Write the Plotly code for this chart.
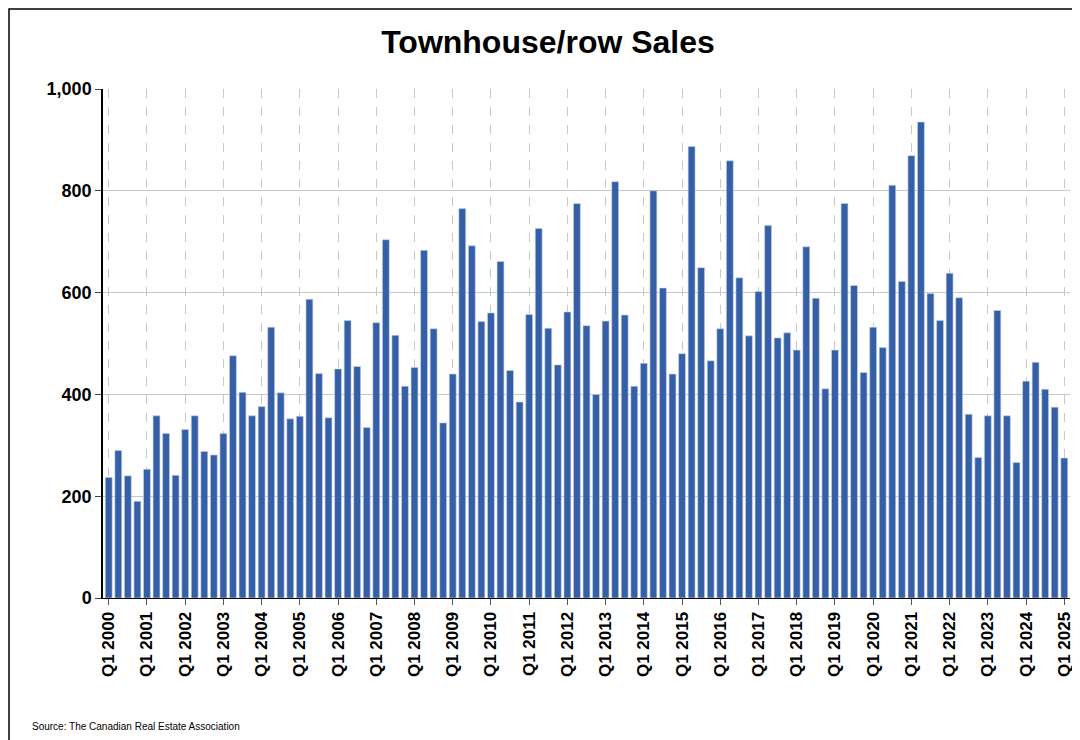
import plotly.graph_objs as go

years = list(range(2000, 2026))
sales = [237, 290, 240, 190,
         253, 358, 323, 241,
         331, 358, 288, 281,
         323, 476, 404, 358,
         376, 532, 403, 352,
         357, 587, 441, 354,
         450, 545, 455, 335,
         541, 704, 516, 416,
         453, 683, 529, 344,
         440, 765, 692, 543,
         560, 661, 447, 385,
         557, 726, 530, 458,
         562, 775, 535, 400,
         544, 818, 556, 416,
         461, 800, 609, 440,
         480, 887, 649, 466,
         529, 859, 629, 515,
         602, 732, 511, 521,
         487, 690, 589, 411,
         487, 775, 614, 443,
         532, 492, 811, 622,
         869, 935, 598, 545,
         638, 590, 361, 276,
         358, 565, 358, 266,
         426, 463, 410, 375,
         275]

quarters = ['Q%d %d' % (q, y) for y in years for q in range(1, 5)][:len(sales)]
q1_labels = ['Q1 %d' % y for y in years]

trace = go.Bar(x=quarters, y=sales, marker=dict(color='#3560a8', line=dict(color='#c9d4ea', width=0.6)),
               width=0.72)

# frame around the whole picture, in paper coords
pl, pr, pt, pb = 95, 1062, 81, 590
W, H = pr - pl, pb - pt
frame = dict(type='rect', xref='paper', yref='paper', x0=(1 - pl) / W, x1=(1079 - pl) / W,
             y0=(pb - 739) / H, y1=(pb - 1) / H, line=dict(color='black', width=1.5))

layout = go.Layout(
    width=1080, height=740,
    margin=dict(l=pl, r=1080 - pr, t=pt, b=740 - pb),
    paper_bgcolor='white', plot_bgcolor='white',
    font=dict(family='Liberation Sans, Arial', color='black'),
    title=dict(text='<b>Townhouse/row Sales</b>', x=0.5, xanchor='center', y=0.955, yanchor='middle',
               font=dict(size=32, color='black')),
    bargap=0.28,
    xaxis=dict(type='category', tickmode='array', tickvals=q1_labels, ticktext=['<b>%s</b>' % t for t in q1_labels],
               tickangle=-90, tickfont=dict(size=17), showgrid=True, gridcolor='#c8c8c8', griddash='dash',
               gridwidth=1, ticks='outside', ticklen=6, tickcolor='#555', showline=True, linecolor='black',
               range=[-0.6, len(sales) - 0.4]),
    yaxis=dict(range=[0, 1000], tickvals=[0, 200, 400, 600, 800, 1000],
               ticktext=['<b>0</b>', '<b>200</b>', '<b>400</b>', '<b>600</b>', '<b>800</b>', '<b>1,000</b>'],
               tickfont=dict(size=18), showgrid=True, gridcolor='#c8c8c8', gridwidth=1,
               ticks='outside', ticklen=6, showline=True, linecolor='black', linewidth=1.5, zeroline=False),
    shapes=[frame],
    annotations=[dict(text='Source: The Canadian Real Estate Association', xref='paper', yref='paper',
                      x=(22 - pl) / W, y=(pb - 718) / H, xanchor='left', yanchor='middle',
                      showarrow=False, font=dict(size=10, color='black'))],
    showlegend=False,
)

fig = go.Figure(data=[trace], layout=layout)
fig.write_html("out.html")
